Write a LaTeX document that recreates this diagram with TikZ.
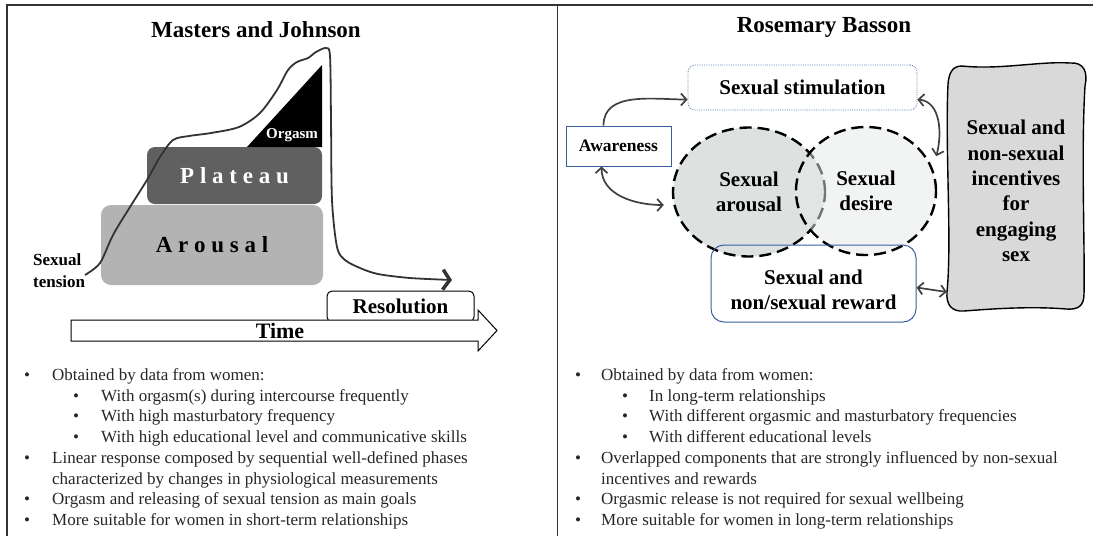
\documentclass[tikz,border=0pt]{standalone}
\usepackage{fontspec}
\setmainfont{Liberation Serif}
\usepackage{tikz}
\usetikzlibrary{shapes.geometric,arrows.meta,positioning}

\definecolor{plateaugray}{HTML}{606060}
\definecolor{arousalgray}{HTML}{B3B3B3}
\definecolor{incentgray}{HTML}{D9D9D9}
\definecolor{arousalfill}{HTML}{DDE2E0}
\definecolor{desirefill}{HTML}{E6EAE8}
\definecolor{boxblue}{HTML}{3A5DA0}
\definecolor{dotblue}{HTML}{5B7DB8}
\definecolor{linegray}{HTML}{404040}

\tikzset{
  heading/.style={font=\fontsize{23}{27}\selectfont\bfseries},
  lbl/.style={font=\fontsize{21}{25}\selectfont\bfseries, align=center},
  item/.style={anchor=base west, inner sep=0pt, font=\fontsize{17}{20.7}\selectfont, text=black!85},
  venn/.style={ellipse, draw=black, line width=2.4pt, dash pattern=on 12pt off 6pt, align=center,
    font=\fontsize{21}{25}\selectfont\bfseries},
  link/.style={draw=linegray, line width=1.7pt},
}

\begin{document}
\begin{tikzpicture}[x=1pt,y=-1pt,>={Straight Barb[length=5.5pt,width=12pt]}]
    \useasboundingbox (0,0) rectangle (1099,536);

    % Frame
    \draw[line width=1.2pt, black!80] (7,536) -- (7,5) -- (1093,5);
    \draw[line width=1.2pt, black!80] (557.5,5) -- (557.5,536);

    % ---------------- Masters and Johnson ----------------
    \node[heading] (mjtitle) at (256,30) {Masters and Johnson};

    % Phases
    \node[fill=arousalgray, rounded corners=10pt, minimum width=222pt, minimum height=80pt,
      font=\fontsize{23}{27}\selectfont\bfseries] (arousalbox) at (212,245) {A r o u s a l};
    \node[fill=plateaugray, rounded corners=8pt, minimum width=175pt, minimum height=57pt,
      text=white, font=\fontsize{23}{27}\selectfont\bfseries] (plateau) at (234.5,175.5) {P l a t e a u};
    \fill (247,147) -- (322,147) -- (322,65) -- cycle;
    \node[text=white, font=\fontsize{15}{18}\selectfont\bfseries] (orgasm) at (292,135) {Orgasm};

    \node[inner sep=0pt, anchor=west, align=left, font=\fontsize{17}{22}\selectfont\bfseries]
      (tension) at (33,271) {Sexual\\tension};

    % Response curve
    \draw[line width=1.8pt, black!80, line join=round,
      -{Straight Barb[length=7pt,width=20pt,line width=3.5pt]}]
      plot[smooth, tension=0.5] coordinates {(85,275) (100,263) (113,235) (130,207) (147,180)
      (160,157) (173,140) (189,136) (211,133) (239,127) (260,113) (277,90) (288,70) (297,62)
      (308,58) (316,52) (326,48) (330,56) (331,120) (332,200) (337,247) (345,260) (360,268)
      (378,274) (410,278) (452,280)};

    % Resolution and time axis
    \node[draw, line width=1pt, rounded corners=5pt, minimum width=147pt, minimum height=31pt,
      font=\fontsize{21}{25}\selectfont\bfseries] (res) at (400.5,306.5) {Resolution};
    \draw[fill=white, line width=1pt] (71,320) -- (478,320) -- (478,310) -- (497,330.5)
      -- (478,351) -- (478,341) -- (71,341) -- cycle;
    \node[font=\fontsize{22}{26}\selectfont\bfseries] (time) at (280,331) {Time};

    % Left list
    \foreach \y/\txt in {380/{Obtained by data from women:},
        463/{Linear response composed by sequential well-defined phases},
        504/{Orgasm and releasing of sexual tension as main goals},
        525/{More suitable for women in short-term relationships}} {
      \node[item] (lb\y) at (24,\y) {\textbullet};
      \node[item] (lt\y) at (52,\y) {\txt};
    }
    \node[item] (lt484) at (52,484) {characterized by changes in physiological measurements};
    \foreach \y/\txt in {401/{With orgasm(s) during intercourse frequently},
        421/{With high masturbatory frequency},
        442/{With high educational level and communicative skills}} {
      \node[item] (lb\y) at (73,\y) {\textbullet};
      \node[item] (lt\y) at (101,\y) {\txt};
    }

    % ---------------- Rosemary Basson ----------------
    \node[heading] (rbtitle) at (824,27) {Rosemary Basson};

    \node[draw=dotblue, densely dotted, line width=0.8pt, rounded corners=7pt,
      minimum width=229pt, minimum height=45pt, lbl] (stim) at (802.5,87.5) {Sexual stimulation};
    \node[draw=boxblue, line width=1pt, minimum width=105pt, minimum height=40pt,
      font=\fontsize{17.5}{21}\selectfont\bfseries] (aware) at (618.5,146) {Awareness};

    % Overlapping components
    \node[venn, fill=arousalfill, minimum width=152pt, minimum height=129pt]
      (arousal) at (749,192) {Sexual\\arousal};
    \node[venn, fill=desirefill, fill opacity=0.5, text opacity=1, minimum width=140pt,
      minimum height=128pt] (desire) at (866,191) {Sexual\\desire};

    \node[draw=boxblue, line width=1pt, rounded corners=13pt, minimum width=205pt,
      minimum height=77pt] (reward) at (813.5,283.5) {};
    \node[lbl] (rewardtxt) at (813.5,289.5) {Sexual and\\non/sexual reward};

    % Incentives
    \draw[fill=incentgray, line width=1.4pt] (962,66) .. controls (1000,70) and (1040,61) .. (1070,63)
      .. controls (1084,62) and (1088,72) .. (1085,86) .. controls (1081,150) and (1085,250) .. (1084,294)
      .. controls (1084,306) and (1078,310) .. (1066,309) .. controls (1030,306) and (990,309) .. (964,311)
      .. controls (951,312) and (946,304) .. (947,292) .. controls (952,240) and (945,150) .. (948,84)
      .. controls (949,72) and (953,66) .. (962,66) -- cycle;
    \node[lbl, font=\fontsize{21}{25.4}\selectfont\bfseries, minimum width=138pt, minimum height=248pt]
      (incent) at (1016,191) {Sexual and\\non-sexual\\incentives\\for\\engaging\\sex};

    % Connectors
    \draw[link,->] ([xshift=-15pt]aware.north) to[out=90,in=180] ([yshift=-12pt]stim.west);
    \draw[link,<->] ([xshift=-17pt]aware.south) to[out=-90,in=180] ([xshift=-8pt,yshift=-13pt]arousal.west);
    \draw[link,<->] ([yshift=-12pt]stim.east) to[out=-5,in=75] ([xshift=10pt]desire.30);
    \draw[link,<->] ([yshift=-4pt]reward.east) -- ([yshift=-101pt]incent.west);

    % Right list
    \foreach \y/\txt in {380/{Obtained by data from women:},
        463/{Overlapped components that are strongly influenced by non-sexual},
        504/{Orgasmic release is not required for sexual wellbeing},
        525/{More suitable for women in long-term relationships}} {
      \node[item] (rb\y) at (575,\y) {\textbullet};
      \node[item] (rt\y) at (601,\y) {\txt};
    }
    \node[item] (rt484) at (601,484) {incentives and rewards};
    \foreach \y/\txt in {401/{In long-term relationships},
        421/{With different orgasmic and masturbatory frequencies},
        442/{With different educational levels}} {
      \node[item] (rb\y) at (622,\y) {\textbullet};
      \node[item] (rt\y) at (649,\y) {\txt};
    }
\end{tikzpicture}
\end{document}
